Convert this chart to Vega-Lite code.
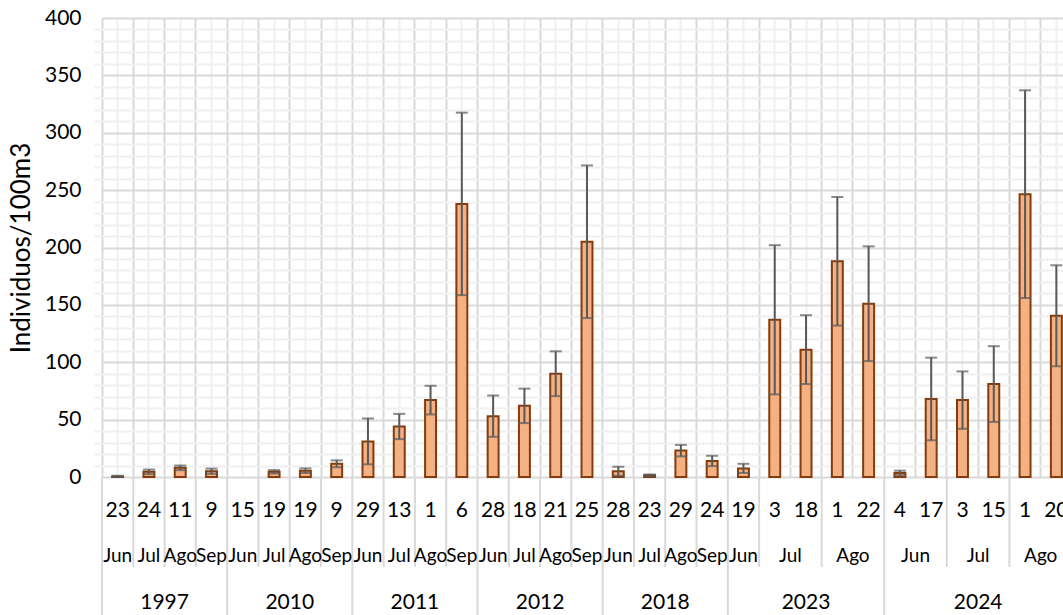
{
  "$schema": "https://vega.github.io/schema/vega-lite/v6.json",
  "background": "white",
  "padding": {"left": 8, "top": 7, "right": 0, "bottom": 0},
  "spacing": 0,
  "bounds": "flush",
  "config": {
    "view": {"stroke": null},
    "font": "Lato",
    "concat": {"spacing": 0},
    "scale": {"bandPaddingInner": 0, "bandPaddingOuter": 0}
  },
  "datasets": {
    "muestras": [
      {"fecha": "1997-06-23", "anio": "1997", "mes": "Jun", "dia": "23", "valor": 0.5, "err": 0.5},
      {"fecha": "1997-07-24", "anio": "1997", "mes": "Jul", "dia": "24", "valor": 4.5, "err": 2},
      {"fecha": "1997-08-11", "anio": "1997", "mes": "Ago", "dia": "11", "valor": 8, "err": 2},
      {"fecha": "1997-09-09", "anio": "1997", "mes": "Sep", "dia": "9", "valor": 5, "err": 2.3},
      {"fecha": "2010-06-15", "anio": "2010", "mes": "Jun", "dia": "15", "valor": null, "err": null},
      {"fecha": "2010-07-19", "anio": "2010", "mes": "Jul", "dia": "19", "valor": 4.5, "err": 1.5},
      {"fecha": "2010-08-19", "anio": "2010", "mes": "Ago", "dia": "19", "valor": 5.5, "err": 2},
      {"fecha": "2010-09-09", "anio": "2010", "mes": "Sep", "dia": "9", "valor": 11.5, "err": 3},
      {"fecha": "2011-06-29", "anio": "2011", "mes": "Jun", "dia": "29", "valor": 31, "err": 20},
      {"fecha": "2011-07-13", "anio": "2011", "mes": "Jul", "dia": "13", "valor": 44, "err": 11},
      {"fecha": "2011-08-01", "anio": "2011", "mes": "Ago", "dia": "1", "valor": 67, "err": 12.5},
      {"fecha": "2011-09-06", "anio": "2011", "mes": "Sep", "dia": "6", "valor": 238, "err": 79.5},
      {"fecha": "2012-06-28", "anio": "2012", "mes": "Jun", "dia": "28", "valor": 53, "err": 18},
      {"fecha": "2012-07-18", "anio": "2012", "mes": "Jul", "dia": "18", "valor": 62, "err": 15},
      {"fecha": "2012-08-21", "anio": "2012", "mes": "Ago", "dia": "21", "valor": 90, "err": 19.5},
      {"fecha": "2012-09-25", "anio": "2012", "mes": "Sep", "dia": "25", "valor": 205, "err": 66.5},
      {"fecha": "2018-06-28", "anio": "2018", "mes": "Jun", "dia": "28", "valor": 5, "err": 4},
      {"fecha": "2018-07-23", "anio": "2018", "mes": "Jul", "dia": "23", "valor": 1.5, "err": 0.7},
      {"fecha": "2018-08-29", "anio": "2018", "mes": "Ago", "dia": "29", "valor": 23, "err": 5},
      {"fecha": "2018-09-24", "anio": "2018", "mes": "Sep", "dia": "24", "valor": 14, "err": 4.5},
      {"fecha": "2023-06-19", "anio": "2023", "mes": "Jun", "dia": "19", "valor": 7.5, "err": 4},
      {"fecha": "2023-07-03", "anio": "2023", "mes": "Jul", "dia": "3", "valor": 137, "err": 65},
      {"fecha": "2023-07-18", "anio": "2023", "mes": "Jul", "dia": "18", "valor": 111, "err": 30},
      {"fecha": "2023-08-01", "anio": "2023", "mes": "Ago", "dia": "1", "valor": 188, "err": 56},
      {"fecha": "2023-08-22", "anio": "2023", "mes": "Ago", "dia": "22", "valor": 151, "err": 50},
      {"fecha": "2024-06-04", "anio": "2024", "mes": "Jun", "dia": "4", "valor": 3.5, "err": 2},
      {"fecha": "2024-06-17", "anio": "2024", "mes": "Jun", "dia": "17", "valor": 68, "err": 36},
      {"fecha": "2024-07-03", "anio": "2024", "mes": "Jul", "dia": "3", "valor": 67, "err": 25},
      {"fecha": "2024-07-15", "anio": "2024", "mes": "Jul", "dia": "15", "valor": 81, "err": 33},
      {"fecha": "2024-08-01", "anio": "2024", "mes": "Ago", "dia": "1", "valor": 246.5, "err": 90.5},
      {"fecha": "2024-08-20", "anio": "2024", "mes": "Ago", "dia": "20", "valor": 140.5, "err": 44}
    ]
  },
  "resolve": {"scale": {"x": "shared"}},
  "vconcat": [
    {
      "width": 962,
      "height": 459,
      "data": {"name": "muestras"},
      "transform": [{"filter": "isValid(datum.valor)"}],
      "layer": [
        {
          "mark": {"type": "bar", "fill": "#F4B183", "stroke": "#843C0C", "strokeWidth": 2, "width": {"band": 0.35}},
          "encoding": {
            "x": {
              "field": "fecha", "type": "nominal",
              "scale": {"type": "band", "range": [0, 970]},
              "axis": {"orient": "bottom", "bandPosition": 0, "grid": true, "gridColor": "#D9D9D9", "gridWidth": 2, "labels": false, "ticks": false, "domain": false, "title": null, "minExtent": 0, "maxExtent": 0}
            },
            "y": {
              "field": "valor", "type": "quantitative",
              "scale": {"domain": [0, 400], "nice": false},
              "axis": {
                "orient": "left",
                "values": [0, 50, 100, 150, 200, 250, 300, 350, 400],
                "grid": true, "gridColor": "#D9D9D9", "gridWidth": 2,
                "domain": false, "ticks": false,
                "labelFont": "Lato", "labelFontSize": 21, "labelColor": "#000000", "labelPadding": 21,
                "title": "Individuos/100m3", "titleFont": "Lato", "titleFontSize": 26, "titleFontWeight": "normal", "titleColor": "#000000", "titlePadding": 10
              }
            }
          }
        },
        {
          "mark": {"type": "errorbar", "ticks": true, "size": 12, "thickness": 2, "color": "#595959"},
          "encoding": {
            "x": {
              "field": "fecha", "type": "nominal",
              "scale": {"type": "band", "range": [0, 970]},
              "axis": {"orient": "top", "bandPosition": 0.5, "grid": true, "gridColor": "#F0F0F0", "gridWidth": 2, "labels": false, "ticks": false, "domain": false, "title": null, "minExtent": 0, "maxExtent": 0}
            },
            "y": {
              "field": "valor", "type": "quantitative",
              "axis": {
                "orient": "right",
                "values": [10, 20, 30, 40, 60, 70, 80, 90, 110, 120, 130, 140, 160, 170, 180, 190, 210, 220, 230, 240, 260, 270, 280, 290, 310, 320, 330, 340, 360, 370, 380, 390],
                "grid": true, "gridColor": "#F0F0F0", "gridWidth": 2,
                "domain": false, "ticks": false, "labels": false, "title": null, "minExtent": 0, "maxExtent": 0
              }
            },
            "yError": {"field": "err"}
          }
        }
      ],
      "resolve": {"axis": {"x": "independent", "y": "independent"}}
    },
    {
      "width": 962,
      "height": 68,
      "data": {"name": "muestras"},
      "transform": [
        {"window": [{"op": "row_number", "as": "rango"}], "groupby": ["anio", "mes"], "sort": [{"field": "fecha"}]}
      ],
      "layer": [
        {
          "transform": [{"filter": "datum.rango == 1"}],
          "mark": {"type": "rule", "color": "#D9D9D9", "strokeWidth": 2},
          "encoding": {
            "x": {"field": "fecha", "type": "nominal", "scale": {"type": "band"}, "bandPosition": 0, "axis": null}
          }
        },
        {
          "mark": {"type": "text", "font": "Lato", "fontSize": 21, "color": "#000000", "clip": true},
          "encoding": {
            "x": {"field": "fecha", "type": "nominal", "scale": {"type": "band"}, "axis": null},
            "text": {"field": "dia"}
          }
        }
      ]
    },
    {
      "width": 962,
      "height": 22,
      "data": {"name": "muestras"},
      "transform": [
        {"window": [{"op": "row_number", "as": "rango"}, {"op": "count", "as": "n"}], "groupby": ["anio", "mes"], "sort": [{"field": "fecha"}], "frame": [null, null]}
      ],
      "layer": [
        {
          "transform": [{"filter": "datum.rango == 1"}],
          "mark": {"type": "rule", "color": "#D9D9D9", "strokeWidth": 2},
          "encoding": {
            "x": {"field": "fecha", "type": "nominal", "scale": {"type": "band"}, "bandPosition": 0, "axis": null}
          }
        },
        {
          "transform": [{"filter": "datum.n % 2 == 1 && datum.rango == (datum.n + 1) / 2"}],
          "mark": {"type": "text", "font": "Lato", "fontSize": 19, "color": "#000000"},
          "encoding": {
            "x": {"field": "fecha", "type": "nominal", "scale": {"type": "band"}, "bandPosition": 0.5, "axis": null},
            "text": {"field": "mes"}
          }
        },
        {
          "transform": [{"filter": "datum.n % 2 == 0 && datum.rango == datum.n / 2"}],
          "mark": {"type": "text", "font": "Lato", "fontSize": 19, "color": "#000000"},
          "encoding": {
            "x": {"field": "fecha", "type": "nominal", "scale": {"type": "band"}, "bandPosition": 1, "axis": null},
            "text": {"field": "mes"}
          }
        }
      ]
    },
    {
      "width": 962,
      "height": 49,
      "data": {"name": "muestras"},
      "transform": [
        {"window": [{"op": "row_number", "as": "rango"}, {"op": "count", "as": "n"}], "groupby": ["anio"], "sort": [{"field": "fecha"}], "frame": [null, null]}
      ],
      "layer": [
        {
          "transform": [{"filter": "datum.rango == 1"}],
          "mark": {"type": "rule", "color": "#D9D9D9", "strokeWidth": 2},
          "encoding": {
            "x": {"field": "fecha", "type": "nominal", "scale": {"type": "band"}, "bandPosition": 0, "axis": null}
          }
        },
        {
          "transform": [{"filter": "datum.n % 2 == 1 && datum.rango == (datum.n + 1) / 2"}],
          "mark": {"type": "text", "font": "Lato", "fontSize": 21, "color": "#000000", "dy": 11},
          "encoding": {
            "x": {"field": "fecha", "type": "nominal", "scale": {"type": "band"}, "bandPosition": 0.5, "axis": null},
            "text": {"field": "anio"}
          }
        },
        {
          "transform": [{"filter": "datum.n % 2 == 0 && datum.rango == datum.n / 2"}],
          "mark": {"type": "text", "font": "Lato", "fontSize": 21, "color": "#000000", "dy": 11},
          "encoding": {
            "x": {"field": "fecha", "type": "nominal", "scale": {"type": "band"}, "bandPosition": 1, "axis": null},
            "text": {"field": "anio"}
          }
        }
      ]
    }
  ]
}
